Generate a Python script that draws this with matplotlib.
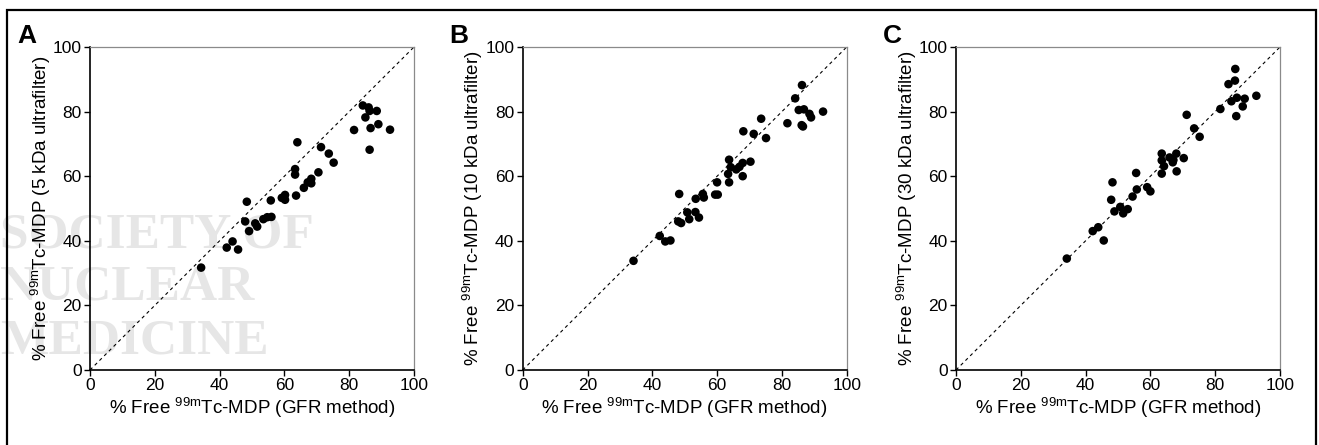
import matplotlib
matplotlib.use('Agg')
import matplotlib.pyplot as plt
from matplotlib.patches import Rectangle

plt.rcParams['font.family'] = ['Liberation Sans', 'DejaVu Sans']
plt.rcParams['mathtext.default'] = 'regular'

# % free 99mTc-MDP, GFR method (x) vs ultrafilter (y)
gfr_a = [34.3, 42.2, 44.0, 45.7, 48.4, 47.9, 49.1, 51.0, 51.6, 53.5, 54.7, 56.0,
         55.8, 59.2, 60.2, 60.2, 63.6, 63.3, 63.3, 64.0, 66.0, 67.2, 68.3, 68.3,
         70.5, 71.3, 73.7, 75.2, 81.5, 84.2, 85.0, 86.0, 86.3, 86.6, 86.3, 88.5,
         89.0, 92.6]
uf5 = [31.7, 37.9, 39.8, 37.3, 52.1, 46.0, 43.0, 45.4, 44.4, 46.7, 47.3, 47.4,
       52.5, 53.3, 54.2, 52.7, 54.0, 60.5, 62.2, 70.5, 56.4, 58.1, 59.2, 57.8,
       61.2, 69.0, 67.0, 64.2, 74.3, 81.9, 78.2, 81.3, 80.2, 74.9, 68.2, 80.2,
       76.1, 74.4]

gfr_b = [34.2, 42.3, 44.0, 45.6, 48.3, 48.0, 48.9, 50.8, 51.4, 53.4, 53.3, 54.4,
         55.6, 55.9, 59.4, 60.2, 60.0, 63.7, 63.4, 63.7, 64.2, 65.9, 66.9, 67.9,
         67.9, 68.1, 70.3, 71.3, 73.6, 75.1, 81.7, 84.1, 85.2, 86.2, 86.8, 86.1,
         86.5, 88.5, 89.0, 92.7]
uf10 = [33.8, 41.5, 39.8, 40.1, 54.5, 46.0, 45.5, 48.8, 46.7, 53.0, 48.9, 47.2,
        54.5, 53.4, 54.3, 54.3, 58.1, 58.1, 60.7, 65.1, 62.8, 62.1, 62.9, 64.1,
        60.0, 73.9, 64.5, 73.1, 77.8, 71.8, 76.4, 84.1, 80.5, 88.2, 80.7, 75.8,
        75.4, 79.3, 78.2, 80.0]

gfr_c = [34.2, 42.2, 43.9, 45.6, 47.9, 48.3, 48.9, 50.7, 51.6, 53.0, 54.5, 55.6,
         55.8, 59.0, 60.0, 63.5, 63.5, 64.2, 63.5, 65.9, 67.1, 66.9, 68.0, 68.1,
         70.3, 71.2, 73.5, 75.2, 81.6, 84.1, 86.1, 86.2, 85.0, 86.7, 86.5, 88.5,
         89.1, 92.7]
uf30 = [34.5, 43.0, 44.2, 40.1, 52.7, 58.1, 49.1, 50.5, 48.5, 49.8, 53.7, 61.0,
        55.9, 56.6, 55.3, 67.0, 64.9, 63.1, 60.8, 65.8, 65.0, 64.3, 67.0, 61.5,
        65.6, 79.0, 74.8, 72.2, 80.8, 88.5, 89.6, 93.2, 83.2, 84.3, 78.6, 81.6,
        84.0, 84.9]

panels = ['A', 'B', 'C']
filters = ['5 kDa', '10 kDa', '30 kDa']
xs = [gfr_a, gfr_b, gfr_c]
ys = [uf5, uf10, uf30]
ticks = [0, 20, 40, 60, 80, 100]

W, H = 1319, 445
fig = plt.figure(figsize=(W / 100, H / 100), dpi=100)

# outer frame around the whole figure
fig.patches.append(Rectangle((7 / W, -0.02), 1309 / W, 1.02 - 10 / H, transform=fig.transFigure,
                             fill=False, edgecolor='black', linewidth=1.6))

# journal watermark behind panel A
for txt, ypx in [('SOCIETY OF', 248), ('NUCLEAR', 300), ('MEDICINE', 353)]:
    fig.text(0 / W, 1 - ypx / H, txt, family='Liberation Serif', fontsize=37, fontweight='bold',
             color='#e6e6e6', ha='left', va='baseline', zorder=-5)

lefts = [90, 522.7, 956]
for i in range(3):
    ax = fig.add_axes([lefts[i] / W, 1 - 370 / H, 324 / W, 323 / H])
    ax.patch.set_alpha(0)
    ax.plot([0, 100], [0, 100], color='black', lw=0.8, ls=(0, (3, 3)), zorder=1)
    ax.scatter(xs[i], ys[i], s=38, color='black', edgecolors='none', zorder=2)
    ax.set_xlim(0, 100)
    ax.set_ylim(0, 100)
    ax.set_xticks(ticks)
    ax.set_yticks(ticks)
    ax.tick_params(direction='out', length=4, width=1, labelsize=12.5, pad=2, colors='black')
    for side in ['left', 'bottom']:
        ax.spines[side].set_linewidth(1.2)
    for side in ['top', 'right']:
        ax.spines[side].set_color('#8a8a8a')
        ax.spines[side].set_linewidth(0.9)
    ax.set_xlabel('% Free $^{99m}$Tc-MDP (GFR method)', fontsize=13.5, labelpad=2)
    ax.set_ylabel('% Free $^{99m}$Tc-MDP (' + filters[i] + ' ultrafilter)', fontsize=13.5, labelpad=0)
    # panel letter
    fig.text((lefts[i] - 73) / W, 1 - 43 / H, panels[i], fontsize=19, fontweight='bold',
             ha='left', va='baseline')

fig.savefig('out.png', dpi=100)
